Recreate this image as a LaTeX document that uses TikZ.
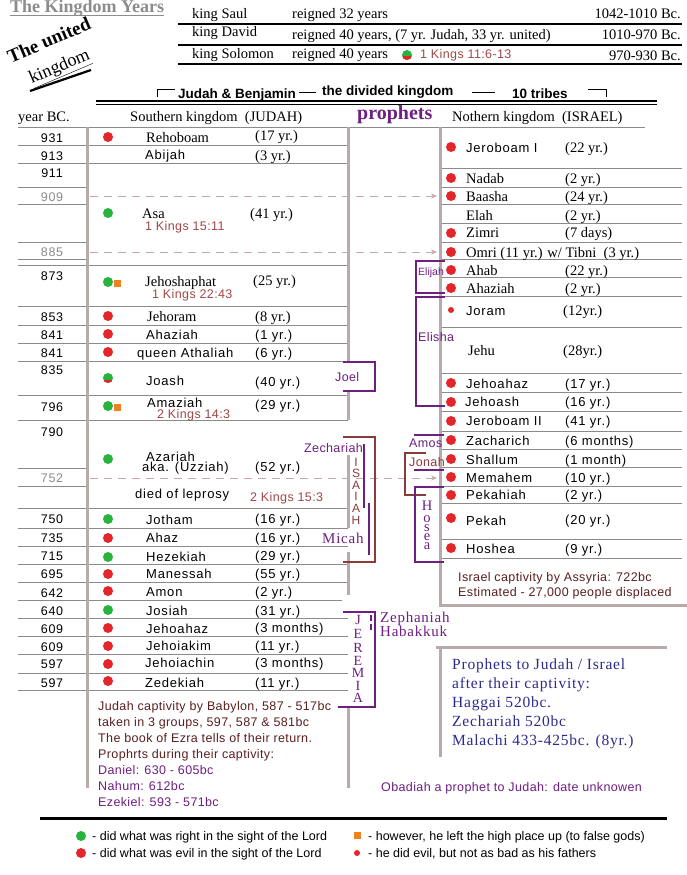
\documentclass[tikz,border=0pt]{standalone}
\usepackage{fontspec}
\setmainfont{Liberation Serif}
\setsansfont{Liberation Sans}
\newfontfamily\sansLS[LetterSpace=6]{Liberation Sans}
\newfontfamily\sansLT[LetterSpace=3]{Liberation Sans}
\newfontfamily\serLS[LetterSpace=5]{Liberation Serif}
\usetikzlibrary{arrows.meta}
\definecolor{dred}{HTML}{E4262A}
\definecolor{dgreen}{HTML}{27B43C}
\definecolor{dorange}{HTML}{F07F1E}
\definecolor{prp}{HTML}{6E1F80}
\definecolor{brn}{HTML}{8C3B3B}
\definecolor{refc}{HTML}{A04848}
\definecolor{capc}{HTML}{5A2020}
\definecolor{navy}{HTML}{2B2B8C}
\definecolor{bargray}{HTML}{B9AAAA}
\definecolor{rowgray}{HTML}{8A8A8A}
\definecolor{dashc}{HTML}{C4A8AE}
\definecolor{tgray}{HTML}{8C8C8C}
\begin{document}
\begin{tikzpicture}[x=1pt,y=-1pt,
  ser/.style={font=\fontsize{14.5}{17}\selectfont, inner sep=0pt, anchor=base west},
  sns/.style={font=\sansLS\fontsize{13}{15}\selectfont, inner sep=0pt, anchor=base west},
  capt/.style={font=\sansLT\fontsize{12.5}{15}\selectfont, inner sep=0pt, anchor=base west},
  yrs/.style={font=\sansLS\fontsize{12.5}{15}\selectfont, inner sep=0pt, anchor=base},
  refs/.style={font=\sansLT\fontsize{12.5}{15}\selectfont, text=refc, inner sep=0pt, anchor=base west},
  bsans/.style={font=\sffamily\bfseries\fontsize{13.5}{15}\selectfont, inner sep=0pt, anchor=base west},
  ptx/.style={font=\sansLT\fontsize{12.5}{15}\selectfont, text=prp, inner sep=0pt, anchor=base west},
  psr/.style={font=\serLS\fontsize{15}{17}\selectfont, text=prp, inner sep=0pt, anchor=base west},
  bls/.style={font=\serLS\fontsize{15.5}{17}\selectfont, text=navy, inner sep=0pt, anchor=base west},
  leg/.style={font=\sffamily\fontsize{12.5}{14}\selectfont, inner sep=0pt, anchor=base west},
  rowl/.style={draw=rowgray, line width=0.9pt},
  vbar/.style={draw=bargray, line width=3pt},
  tline/.style={draw=black, line width=2pt},
  pbr/.style={draw=prp, line width=2.4pt},
  bbr/.style={draw=brn, line width=2.4pt},
  rdot/.style={circle, fill=dred, minimum size=10pt, inner sep=0pt},
  gdot/.style={circle, fill=dgreen, minimum size=10pt, inner sep=0pt},
  sdot/.style={circle, fill=dred, minimum size=6pt, inner sep=0pt},
  osq/.style={rectangle, fill=dorange, minimum size=7pt, inner sep=0pt},
  hdot/.style={circle, fill=dgreen, minimum size=10pt, inner sep=0pt,
    path picture={\fill[dred] ([yshift=-1pt]path picture bounding box.south west) rectangle ([yshift=3.5pt]path picture bounding box.south east);}},
  darr/.style={draw=dashc, line width=1pt, dash pattern=on 8pt off 6pt, -{Stealth[length=6pt,width=5pt]}},
  lett/.style={inner sep=0pt, anchor=center}
]
\useasboundingbox[fill=white] (0,0) rectangle (687,875);

% ---------- title ----------
\node[font=\bfseries\fontsize{18}{20}\selectfont, text=tgray, inner sep=0pt, anchor=base west] (title) at (10,13) {The Kingdom Years};
\draw[tgray, line width=1.6pt] ([yshift=-2.5pt]title.base west) -- ([yshift=-2.5pt]title.base east);

\node[font=\bfseries\fontsize{19}{20}\selectfont, rotate=23, inner sep=0pt] (unitedA) at (49,40) {The united};
\node[font=\fontsize{18}{20}\selectfont, rotate=23, inner sep=0pt] (unitedB) at (60,68) {\underline{kingdom}};
\coordinate (ulA) at (30,91);
\coordinate (ulB) at (91,70);
\draw[black, line width=2.2pt] (ulA) -- (ulB);

% ---------- united kingdom table ----------
\node[ser] (saul) at (192,19) {king Saul};
\node[ser] (saulR) at (292,19) {reigned 32 years};
\node[ser, anchor=base east] (saulD) at (681,19) {1042-1010 Bc.};
\draw[tline] (178,24) -- (682,24);
\node[ser] (david) at (192,37) {king David};
\node[ser] (davidR) at (292,40) {reigned 40 years, (7 yr. Judah, 33 yr. united)};
\node[ser, anchor=base east] (davidD) at (681,40) {1010-970 Bc.};
\draw[tline] (178,45) -- (682,45);
\node[ser] (solomon) at (192,59) {king Solomon};
\node[ser] (solomonR) at (292,59) {reigned 40 years};
\node[hdot] (dSolomon) at (407,55) {};
\node[refs] (solRef) at (420,59) {1 Kings 11:6-13};
\node[ser, anchor=base east] (solomonD) at (681,60) {970-930 Bc.};
\draw[tline] (178,64) -- (682,64);

% ---------- divided kingdom header ----------
\draw[black, line width=1pt] (157,97) -- (157,89) -- (175,89);
\node[bsans] (judben) at (178,98) {Judah \& Benjamin};
\draw[black, line width=1pt] (299,92) -- (316,92);
\node[bsans] (divk) at (322,95) {the divided kingdom};
\draw[black, line width=1pt] (472,92) -- (495,92);
\node[bsans] (tentr) at (512,99) {10 tribes};
\draw[black, line width=1pt] (588,89) -- (606,89) -- (606,97);
\draw[black, line width=1.2pt] (96,101) -- (657,101);
\draw[black, line width=1.2pt] (96,104.5) -- (657,104.5);

\node[ser] (hyear) at (18,121) {year BC.};
\node[ser] (hsouth) at (130,121) {Southern kingdom\ \ (JUDAH)};
\node[font=\bfseries\fontsize{20}{22}\selectfont, text=prp, inner sep=0pt, anchor=base west] (hprop) at (357,119) {prophets};
\node[ser] (hnorth) at (452,121) {Nothern kingdom\ \ (ISRAEL)};
\draw[rowl] (18,127.5) -- (645,127.5);

% ---------- row lines ----------
\foreach \y in {145,163,265,306,325,343,361,395,420,508,528,546,564,582,618,636,654,673,690}
  \draw[rowl] (18,\y) -- (348,\y);
\draw[rowl] (18,600) -- (342,600);
\foreach \y in {187,204,242,259,468,486}
  \draw[rowl] (18,\y) -- (87,\y);
\foreach \y in {168,187,204,223,242,259,277,296,327,373,392,411,431,449,467,486,503,539,558}
  \draw[rowl] (440,\y) -- (682,\y);

% ---------- dashed arrows ----------
\coordinate (a909s) at (90,196);  \coordinate (a909e) at (437,196);
\coordinate (a885s) at (90,252);  \coordinate (a885e) at (437,252);
\coordinate (a752s) at (90,478);  \coordinate (a752e) at (437,478);
\draw[darr] (a909s) -- (a909e);
\draw[darr] (a885s) -- (a885e);
\draw[darr] (a752s) -- (a752e);

% ---------- vertical bars ----------
\draw[vbar] (87,127) -- (87,788);
\draw[vbar] (348,127) -- (348,362);
\draw[vbar] (348,391) -- (348,420);
\draw[vbar] (348,455) -- (348,528);
\draw[vbar] (348,552) -- (348,595);
\draw[vbar] (348,707) -- (348,788);
\draw[vbar] (440,127) -- (440,605) -- (687,605);
\draw[vbar] (436,647) -- (667,647);
\draw[vbar] (440,647) -- (440,757);

% ---------- years ----------
\foreach \t/\b/\c [count=\i] in {931/142/black,913/160/black,911/177/black,909/201/tgray,885/256/tgray,873/280/black,853/321/black,841/339/black,841/357/black,835/374/black,796/411/black,790/436/black,752/482/tgray,750/523/black,735/542/black,715/560/black,695/578/black,642/597/black,640/615/black,609/633/black,609/651/black,597/668/black,597/687/black}
  \node[yrs, text=\c] (yr\i) at (52,\b) {\t};

% ---------- southern kings ----------
\foreach \n/\b/\f/\x [count=\i] in {Rehoboam/142/ser/146,Abijah/159/sns/145,Asa/218/ser/142,Jehoshaphat/286/ser/145,Jehoram/321/ser/147,Ahaziah/339/sns/146,queen Athaliah/357/sns/137,Joash/385/sns/146,Amaziah/407/sns/147,Azariah/461/sns/146,Jotham/524/sns/146,Ahaz/542/sns/146,Hezekiah/561/sns/146,Manessah/578/sns/146,Amon/596/sns/146,Josiah/615/sns/146,Jehoahaz/633/sns/146,Jehoiakim/650/sns/146,Jehoiachin/667/sns/145,Zedekiah/687/sns/145}
  \node[\f] (sk\i) at (\x,\b) {\n};
\foreach \n/\b/\f/\x [count=\i] in {(17 yr.)/140/ser/255,(3 yr.)/160/ser/255,(41 yr.)/218/ser/250,(25 yr.)/285/ser/253,(8 yr.)/321/ser/255,(1 yr.)/339/sns/255,(6 yr.)/357/sns/255,(40 yr.)/386/sns/255,(29 yr.)/409/sns/255,(52 yr.)/471/sns/255,(16 yr.)/523/sns/255,(16 yr.)/542/sns/255,(29 yr.)/560/sns/255,(55 yr.)/578/sns/255,(2 yr.)/596/sns/255,(31 yr.)/615/sns/255,(3 months)/632/sns/255,(11 yr.)/650/sns/255,(3 months)/667/sns/255,(11 yr.)/687/sns/255}
  \node[\f] (sr\i) at (\x,\b) {\n};
\node[sns] (uzz) at (142,471) {aka. (Uzziah)};
\node[sns] (lep) at (135,498) {died of leprosy};
\node[refs] (ref1) at (145,230) {1 Kings 15:11};
\node[refs] (ref2) at (152,298) {1 Kings 22:43};
\node[refs] (ref3) at (157,418) {2 Kings 14:3};
\node[refs] (ref4) at (250,501) {2 Kings 15:3};

% southern dots
\foreach \s/\y [count=\i] in {rdot/137,gdot/213,gdot/282,rdot/316,rdot/334,rdot/352,hdot/378,gdot/406,gdot/459,gdot/519,rdot/538,gdot/557,rdot/574,rdot/591,gdot/610,rdot/628,rdot/646,rdot/664,rdot/681}
  \node[\s] (sd\i) at (108,\y) {};
\node[osq] (sqJehosh) at (117,283) {};
\node[osq] (sqAmaz) at (117,407) {};

% ---------- northern kings ----------
\foreach \n/\b/\f/\x [count=\i] in {Jeroboam I/152/sns/466,Nadab/183/ser/466,Baasha/201/ser/466,Elah/220/ser/466,Zimri/237/ser/466,Ahab/275/ser/466,Ahaziah/293/ser/466,Joram/315/sns/466,Jehu/355/ser/468,Jehoahaz/388/sns/466,Jehoash/406/sns/465,Jeroboam II/425/sns/466,Zacharich/445/sns/466,Shallum/464/sns/466,Memahem/482/sns/466,Pekahiah/499/sns/466,Pekah/525/sns/466,Hoshea/553/sns/466}
  \node[\f] (nk\i) at (\x,\b) {\n};
\node[ser] (omri) at (466,257) {Omri (11 yr.) w/ Tibni\ \ (3 yr.)};
\foreach \n/\b/\f/\x [count=\i] in {(22 yr.)/152/ser/565,(2 yr.)/183/ser/565,(24 yr.)/201/ser/565,(2 yr.)/220/ser/565,(7 days)/237/ser/565,(22 yr.)/275/ser/565,(2 yr.)/293/ser/565,(12yr.)/315/ser/563,(28yr.)/355/ser/563,(17 yr.)/388/sns/565,(16 yr.)/406/sns/565,(41 yr.)/425/sns/565,(6 months)/445/sns/565,(1 month)/464/sns/565,(10 yr.)/482/sns/565,(2 yr.)/499/sns/565,(20 yr.)/524/sns/565,(9 yr.)/553/sns/565}
  \node[\f] (nr\i) at (\x,\b) {\n};
\foreach \s/\y [count=\i] in {rdot/147,rdot/178,rdot/196,rdot/233,rdot/252,rdot/270,rdot/288,sdot/310,rdot/383,rdot/402,rdot/421,rdot/440,rdot/459,rdot/477,rdot/495,rdot/518,rdot/548}
  \node[\s] (nd\i) at (451,\y) {};

\node[capt, text=capc] (isr1) at (458,581) {Israel captivity by Assyria: 722bc};
\node[capt, text=capc] (isr2) at (458,596) {Estimated - 27,000 people displaced};

% ---------- prophets ----------
% Elijah / Elisha
\draw[pbr] (445,261) -- (416,261) -- (416,293) -- (445,293);
\node[font=\sffamily\fontsize{10.5}{12}\selectfont, text=prp, inner sep=0pt, anchor=base west] (elijah) at (418,275) {Elijah};
\draw[pbr] (445,297) -- (416,297) -- (416,406) -- (445,406);
\node[ptx] (elisha) at (418,341) {Elisha};
% Joel
\draw[pbr] (343,362) -- (375,362) -- (375,391) -- (343,391);
\node[ptx] (joel) at (335,381) {Joel};
% Zechariah / Isaiah / Micah
\draw[bbr] (343,437) -- (375,437) -- (375,562) -- (343,562);
\node[ptx] (zech) at (304,452) {Zechariah};
\draw[pbr] (364,444) -- (364,508);
\foreach \l/\y [count=\i] in {I/462,S/473,A/485,I/496,A/508,H/520}
  \node[lett, font=\sffamily\fontsize{12}{12}\selectfont, text=brn] (isa\i) at (356,\y) {\l};
\draw[pbr] (369,503) -- (369,555);
\node[psr] (micah) at (322,543) {Micah};
% Amos / Jonah
\draw[pbr] (414,435) -- (444,435);
\node[ptx] (amos) at (409,447) {Amos};
\draw[pbr] (414,470) -- (444,470);
\draw[bbr] (426,453) -- (405,453) -- (405,495) -- (426,495);
\node[ptx, text=brn] (jonah) at (409,466) {Jonah};
% Hosea
\draw[pbr] (444,487) -- (415,487) -- (415,562) -- (444,562);
\foreach \l/\y [count=\i] in {H/506,o/519,s/528,e/537,a/546}
  \node[lett, font=\fontsize{14.5}{14}\selectfont, text=prp] (hos\i) at (427,\y) {\l};
% Jeremiah
\draw[pbr] (343,612) -- (375,612) -- (375,707) -- (338,707);
\foreach \l/\y [count=\i] in {J/620,E/634,R/648,E/661,M/673,I/686,A/698}
  \node[lett, font=\fontsize{14}{14}\selectfont, text=prp] (jer\i) at (358,\y) {\l};
\draw[draw=prp, line width=2pt, dash pattern=on 6pt off 3pt] (371,615) -- (371,632);
\node[psr] (zeph) at (380,622) {Zephaniah};
\node[psr] (habak) at (380,636) {Habakkuk};

% ---------- after captivity ----------
\node[bls] (pa1) at (452,669) {Prophets to Judah / Israel};
\node[bls] (pa2) at (452,688) {after their captivity:};
\node[bls] (pa3) at (452,707) {Haggai 520bc.};
\node[bls] (pa4) at (452,726) {Zechariah 520bc};
\node[bls] (pa5) at (452,745) {Malachi 433-425bc. (8yr.)};
\node[capt, text=prp] (obad) at (381,791) {Obadiah a prophet to Judah: date unknowen};

\node[capt, text=capc] (jc1) at (98,710) {Judah captivity by Babylon, 587 - 517bc};
\node[capt, text=capc] (jc2) at (98,726) {taken in 3 groups, 597, 587 \& 581bc};
\node[capt, text=capc] (jc3) at (98,742) {The book of Ezra tells of their return.};
\node[capt, text=capc] (jc4) at (98,758) {Prophrts during their captivity:};
\node[capt, text=prp] (jc5) at (98,774) {Daniel: 630 - 605bc};
\node[capt, text=prp] (jc6) at (98,790) {Nahum: 612bc};
\node[capt, text=prp] (jc7) at (98,806) {Ezekiel: 593 - 571bc};

% ---------- legend ----------
\draw[black, line width=3pt] (40,818) -- (667,818);
\node[gdot] (lg1) at (81,836) {};
\node[leg] (lt1) at (92,840) {- did what was right in the sight of the Lord};
\node[rdot] (lg2) at (81,853) {};
\node[leg] (lt2) at (92,857) {- did what was evil in the sight of the Lord};
\node[osq] (lg3) at (357,835) {};
\node[leg] (lt3) at (368,840) {- however, he left the high place up (to false gods)};
\node[sdot] (lg4) at (357,853) {};
\node[leg] (lt4) at (368,857) {- he did evil, but not as bad as his fathers};
\end{tikzpicture}
\end{document}
